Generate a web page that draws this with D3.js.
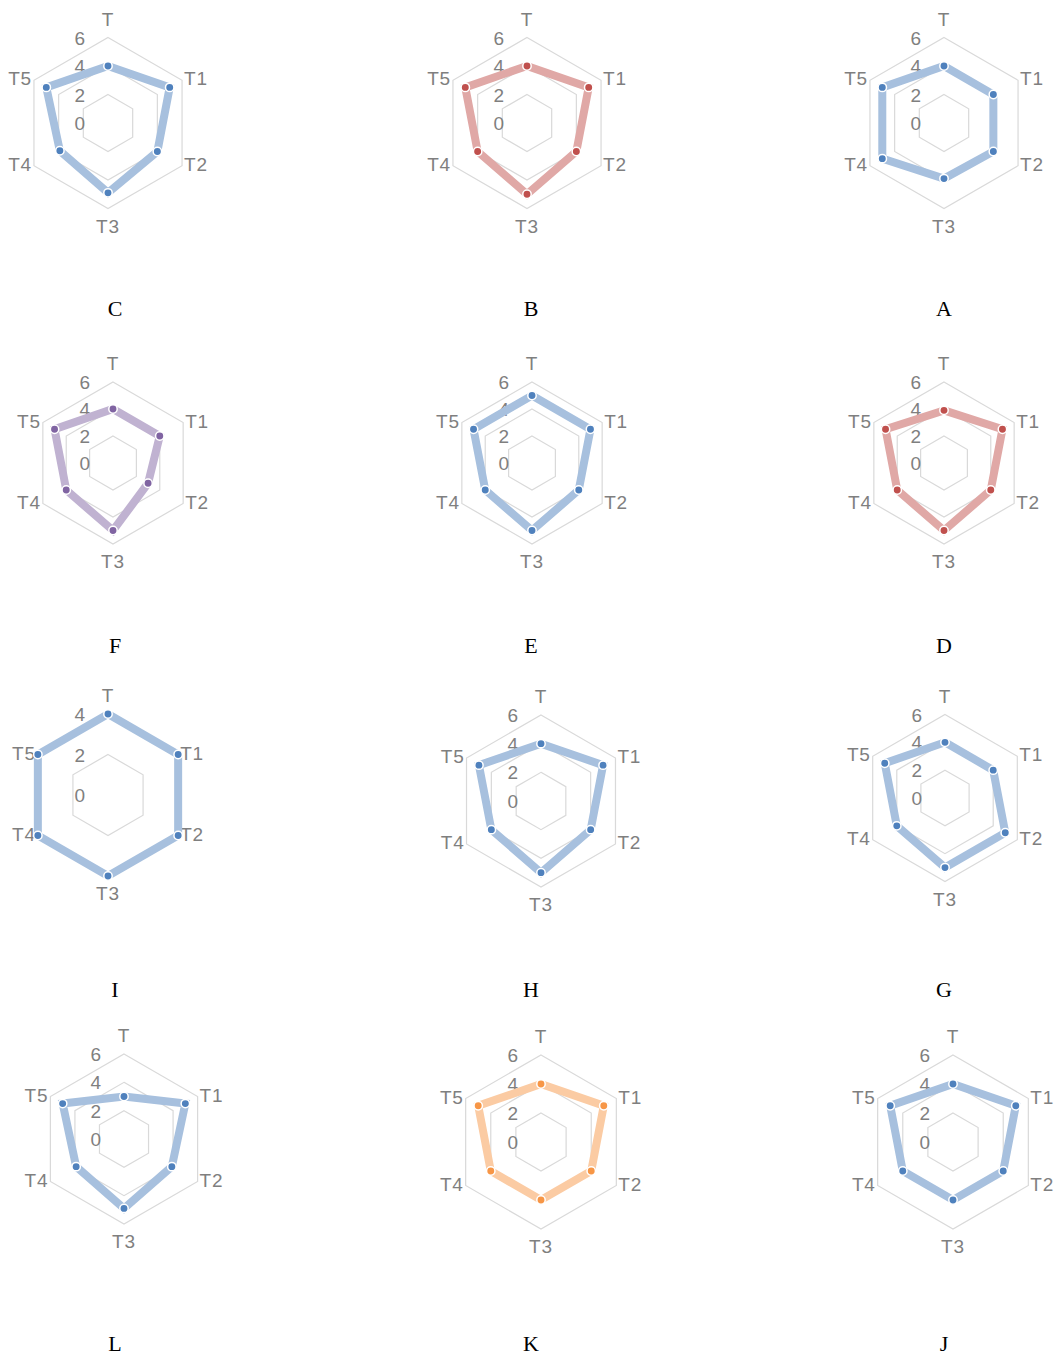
<!DOCTYPE html>
<html>
<head>
<meta charset="utf-8">
<script src="https://cdn.jsdelivr.net/npm/d3@7"></script>
<style>
  body { margin: 0; background: #fff; }
</style>
</head>
<body>
<svg id="chart" width="1056" height="1356"></svg>
<script>
// axis categories shared by every radar
const axes = ["T", "T1", "T2", "T3", "T4", "T5"];

// panel letters, in reading order
const panelNames = ["C", "B", "A", "F", "E", "D", "I", "H", "G", "L", "K", "J"];

// series values per panel
const valuesC = [4, 5, 4, 4.9, 3.9, 5];
const valuesB = [4, 5, 4, 5, 4, 5];
const valuesA = [4, 4, 4, 3.9, 5, 5];
const valuesF = [4, 4, 3, 5, 4, 5];
const valuesE = [5, 5, 4, 5, 4, 5];
const valuesD = [3.9, 5, 4, 5, 4, 5];
const valuesI = [4, 4, 4, 4, 4, 4];
const valuesH = [4, 5, 4, 5, 4, 5];
const valuesG = [4, 4, 5, 5, 4, 5];
const valuesL = [3, 5, 3.9, 4.9, 3.9, 5];
const valuesK = [4, 5, 4, 4, 4, 5];
const valuesJ = [4, 5, 4, 4, 4, 5];

// radial tick labels
const ticksSix = [0, 2, 4, 6];
const ticksFour = [0, 2, 4];

const panelValues = [valuesC, valuesB, valuesA, valuesF, valuesE, valuesD,
                     valuesI, valuesH, valuesG, valuesL, valuesK, valuesJ];
const panelTicks = [ticksSix, ticksSix, ticksSix, ticksSix, ticksSix, ticksSix,
                    ticksFour, ticksSix, ticksSix, ticksSix, ticksSix, ticksSix];

// layout: radar centre, outer radius, caption position
const layout = [
  { cx: 108, cy: 123,  r: 85.5, lx: 115, ly: 316 },
  { cx: 527, cy: 123,  r: 85.5, lx: 531, ly: 316 },
  { cx: 944, cy: 123,  r: 85.5, lx: 944, ly: 316 },
  { cx: 113, cy: 463,  r: 81,   lx: 115, ly: 653 },
  { cx: 532, cy: 463,  r: 81,   lx: 531, ly: 653 },
  { cx: 944, cy: 463,  r: 81,   lx: 944, ly: 653 },
  { cx: 108, cy: 795,  r: 81,   lx: 115, ly: 997 },
  { cx: 541, cy: 801,  r: 86,   lx: 531, ly: 997 },
  { cx: 945, cy: 798,  r: 83.5, lx: 944, ly: 997 },
  { cx: 124, cy: 1139, r: 85,   lx: 115, ly: 1351 },
  { cx: 541, cy: 1142, r: 87,   lx: 531, ly: 1351 },
  { cx: 953, cy: 1142, r: 87,   lx: 944, ly: 1351 }
];

const blue = "#4f81bd", red = "#c0504d", purple = "#8064a2", orange = "#f79646";
const panelColors = [blue, red, blue, purple, blue, red, blue, blue, blue, blue, orange, blue];

const svg = d3.select("#chart");

const angle = d3.scalePoint()
  .domain(axes)
  .range([0, 2 * Math.PI * 5 / 6]);

const labelFont = "'Liberation Sans', Arial, sans-serif";

panelNames.forEach((name, i) => {
  const L = layout[i];
  const values = panelValues[i];
  const ticks = panelTicks[i];
  const color = panelColors[i];
  const light = d3.interpolateRgb(color, "#ffffff")(0.5);

  const r = d3.scaleLinear()
    .domain([0, d3.max(ticks)])
    .range([0, L.r]);

  const g = svg.append("g").attr("transform", `translate(${L.cx},${L.cy})`);

  const ring = d3.lineRadial()
    .angle(d => angle(d.axis))
    .radius(d => r(d.value))
    .curve(d3.curveLinearClosed);

  // hexagonal gridlines
  g.selectAll(".grid")
    .data(ticks.filter(t => t > 0))
    .join("path")
    .attr("class", "grid")
    .attr("fill", "none")
    .attr("stroke", "#d9d9d9")
    .attr("stroke-width", 1.2)
    .attr("d", t => ring(axes.map(a => ({ axis: a, value: t }))));

  // category labels
  const maxV = d3.max(ticks);
  g.selectAll(".cat")
    .data(axes)
    .join("text")
    .attr("class", "cat")
    .attr("font-family", labelFont)
    .attr("font-size", 19)
    .attr("letter-spacing", 0.8)
    .attr("fill", "#7f7f7f")
    .each(function (a) {
      const ang = angle(a);
      const vx = Math.sin(ang) * r(maxV);
      const vy = -Math.cos(ang) * r(maxV);
      const s = Math.sin(ang);
      const t = d3.select(this);
      if (Math.abs(s) < 0.1) {
        t.attr("text-anchor", "middle")
          .attr("x", vx)
          .attr("y", vy < 0 ? vy - 12 : vy + 24);
      } else {
        t.attr("text-anchor", s > 0 ? "start" : "end")
          .attr("x", vx + (s > 0 ? 2 : -2))
          .attr("y", vy + 5);
      }
    })
    .text(a => a);

  // radial tick labels
  g.selectAll(".tick")
    .data(ticks)
    .join("text")
    .attr("class", "tick")
    .attr("font-family", labelFont)
    .attr("font-size", 19)
    .attr("fill", "#7f7f7f")
    .attr("text-anchor", "end")
    .attr("x", -23)
    .attr("y", t => -r(t) + 7)
    .text(t => t);

  // series line (pattern-filled in the original, drawn as a light band)
  const pts = axes.map((a, k) => ({ axis: a, value: values[k] }));
  g.append("path")
    .attr("fill", "none")
    .attr("stroke", light)
    .attr("stroke-width", 8)
    .attr("stroke-linejoin", "miter")
    .attr("d", ring(pts));

  // markers
  g.selectAll(".dot")
    .data(pts)
    .join("circle")
    .attr("class", "dot")
    .attr("cx", d => Math.sin(angle(d.axis)) * r(d.value))
    .attr("cy", d => -Math.cos(angle(d.axis)) * r(d.value))
    .attr("r", 4.2)
    .attr("fill", color)
    .attr("stroke", "#fff")
    .attr("stroke-width", 1.5);

  // panel caption
  svg.append("text")
    .attr("x", L.lx)
    .attr("y", L.ly)
    .attr("text-anchor", "middle")
    .attr("font-family", "'Liberation Serif', 'Times New Roman', serif")
    .attr("font-size", 22)
    .attr("fill", "#000")
    .text(name);
});
</script>
</body>
</html>
